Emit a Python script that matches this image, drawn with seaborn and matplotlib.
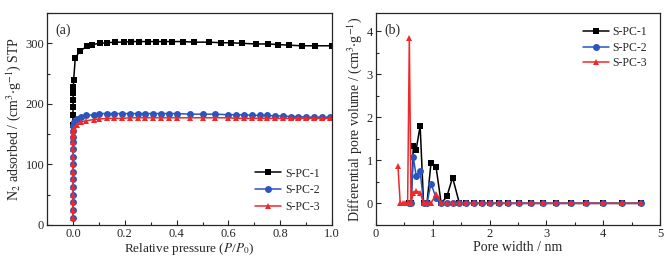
import numpy as np
import pandas as pd
import seaborn as sns
import matplotlib.pyplot as plt
from matplotlib.ticker import MultipleLocator

# (a) N2 adsorption isotherms
p1 = [0.0001, 0.0003, 0.0006, 0.001, 0.0015, 0.002, 0.003, 0.009, 0.026, 0.054, 0.074, 0.103,
      0.132, 0.162, 0.197, 0.225, 0.256, 0.288, 0.320, 0.352, 0.382, 0.423, 0.466, 0.526,
      0.572, 0.611, 0.653, 0.708, 0.754, 0.793, 0.832, 0.883, 0.935, 1.0]
v1 = [165, 182, 195, 207, 218, 228, 240, 275, 287, 295, 298, 300,
      301, 302, 302, 303, 303, 303, 303, 303, 303, 303, 302, 302,
      301, 301, 300, 299, 299, 298, 297, 296, 296, 296]

p_low = [0.0001, 0.0002, 0.0003, 0.0004, 0.0005, 0.0006, 0.0007, 0.0008, 0.0009, 0.001,
         0.0011, 0.0012, 0.0013, 0.0015]
p_high = [0.005, 0.015, 0.03, 0.05, 0.08, 0.10, 0.13, 0.16, 0.19, 0.22, 0.25, 0.28, 0.31,
          0.34, 0.37, 0.40, 0.45, 0.50, 0.55, 0.60, 0.63, 0.66, 0.69, 0.72, 0.75, 0.78,
          0.81, 0.84, 0.87, 0.90, 0.93, 0.96, 0.99]
v2 = [12, 25, 37, 50, 62, 75, 87, 100, 112, 125, 137, 146, 155, 163,
      170, 175, 178, 181, 182, 184, 184, 184, 184, 184, 184, 184, 184,
      184, 184, 184, 183, 183, 183, 182, 182, 182, 181, 181, 181, 180,
      180, 179, 179, 178, 178, 178, 178]
v3 = [12, 25, 37, 50, 62, 75, 87, 100, 112, 125, 137, 145, 150, 155,
      160, 165, 170, 172, 174, 175, 176, 176, 176, 177, 177, 177, 177,
      177, 177, 177, 177, 177, 177, 177, 176, 176, 176, 176, 176, 176,
      176, 176, 176, 176, 176, 176, 176]

# (b) pore size distribution
w_bk = [0.59, 0.62, 0.66, 0.71, 0.78, 0.84, 0.90, 0.97, 1.06, 1.15, 1.25, 1.35, 1.47, 1.59,
        1.72, 1.86, 2.00, 2.16, 2.33, 2.52, 2.72, 2.94, 3.17, 3.43, 3.70, 4.00, 4.32, 4.66]
d1 = [0, 0, 1.33, 1.25, 1.80, 0, 0, 0.93, 0.84, 0, 0.16, 0.60, 0, 0,
      0, 0, 0, 0, 0, 0, 0, 0, 0, 0, 0, 0, 0, 0]
d2 = [0, 0, 1.07, 0.64, 0.75, 0, 0, 0.46, 0.13, 0, 0, 0, 0, 0,
      0, 0, 0, 0, 0, 0, 0, 0, 0, 0, 0, 0, 0, 0]
w_rd = [0.39, 0.43, 0.47, 0.52, 0.56] + w_bk
d3 = [0.86, 0, 0, 0, 0, 3.85, 0, 0.25, 0.29, 0.25, 0, 0, 0, 0.22, 0, 0, 0, 0, 0,
      0, 0, 0, 0, 0, 0, 0, 0, 0, 0, 0, 0, 0, 0]

black, blue, red = "#000000", "#2a55c0", "#f02828"

sns.set_theme(style="ticks")
plt.rcParams['font.family'] = ['Liberation Serif', 'DejaVu Serif']
plt.rcParams['mathtext.fontset'] = 'stix'
plt.rcParams['font.size'] = 9

fig = plt.figure(figsize=(6.71, 2.57), dpi=100)
ax1 = fig.add_axes([0.070, 0.125, 0.425, 0.824])
ax2 = fig.add_axes([0.560, 0.125, 0.424, 0.824])

kw = dict(estimator=None, sort=False, linewidth=1.1, markersize=5, markeredgewidth=0)
sns.lineplot(x=p1, y=v1, ax=ax1, color=black, marker='s', label='S-PC-1', **kw)
sns.lineplot(x=p_low + p_high, y=v2, ax=ax1, color=blue, marker='o', label='S-PC-2', **kw)
sns.lineplot(x=p_low + p_high, y=v3, ax=ax1, color=red, marker='^', label='S-PC-3', **kw)

sns.lineplot(x=w_bk, y=d1, ax=ax2, color=black, marker='s', label='S-PC-1', **kw)
sns.lineplot(x=w_bk, y=d2, ax=ax2, color=blue, marker='o', label='S-PC-2', **kw)
sns.lineplot(x=w_rd, y=d3, ax=ax2, color=red, marker='^', label='S-PC-3', **kw)

ax1.set_xlim(-0.1, 1.0)
ax1.set_ylim(0, 350)
ax1.xaxis.set_major_locator(MultipleLocator(0.2))
ax1.xaxis.set_minor_locator(MultipleLocator(0.1))
ax1.yaxis.set_major_locator(MultipleLocator(100))
ax1.yaxis.set_minor_locator(MultipleLocator(50))
ax1.set_xticks(np.arange(0, 1.01, 0.2))
ax1.set_xticklabels(['0.0', '0.2', '0.4', '0.6', '0.8', '1.0'])
ax1.set_xlabel(r'Relative pressure ($\it{P}$/$\it{P}_0$)', fontsize=9.5, labelpad=1)
ax1.set_ylabel(r'N$_2$ adsorbed / (cm$^3$$\cdot$g$^{-1}$) STP', fontsize=10, labelpad=2)
ax1.text(0.03, 0.95, '(a)', transform=ax1.transAxes, fontsize=10, va='top')
ax1.legend(loc='lower right', frameon=False, fontsize=8.5, handlelength=2.2,
           handletextpad=0.4, borderaxespad=0.6, labelspacing=0.4)

ax2.set_xlim(0, 5)
ax2.set_ylim(-0.5, 4.42)
ax2.xaxis.set_major_locator(MultipleLocator(1))
ax2.xaxis.set_minor_locator(MultipleLocator(0.5))
ax2.yaxis.set_major_locator(MultipleLocator(1))
ax2.yaxis.set_minor_locator(MultipleLocator(0.5))
ax2.set_xlabel('Pore width / nm', fontsize=10, labelpad=1)
ax2.set_ylabel(r'Differential pore volume / (cm$^3$$\cdot$g$^{-1}$)', fontsize=10, labelpad=2)
ax2.text(0.03, 0.95, '(b)', transform=ax2.transAxes, fontsize=10, va='top')
ax2.legend(loc='upper right', frameon=False, fontsize=8.5, handlelength=2.2,
           handletextpad=0.3, borderaxespad=0.7, labelspacing=0.3)

for ax in (ax1, ax2):
    ax.tick_params(which='both', direction='in', labelsize=9, pad=2)
    ax.tick_params(which='major', length=3.5, width=0.8)
    ax.tick_params(which='minor', length=2, width=0.8)
    for s in ax.spines.values():
        s.set_linewidth(0.9)

fig.savefig('out.png', dpi=100)
